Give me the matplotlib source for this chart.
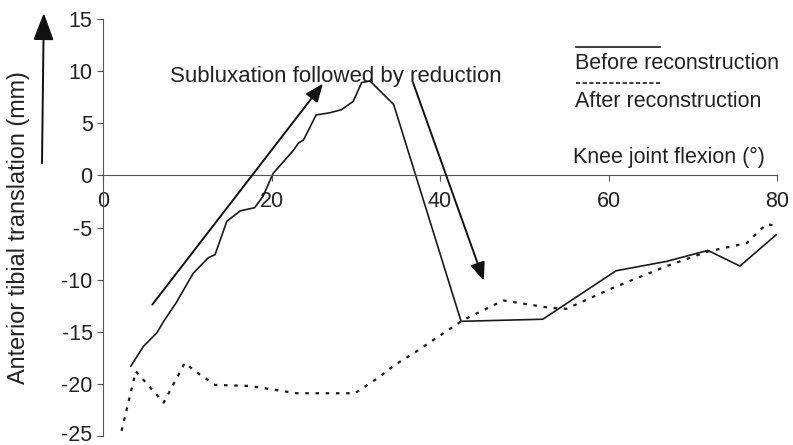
import matplotlib
matplotlib.use("Agg")
import matplotlib.pyplot as plt
from matplotlib.patches import FancyArrowPatch
from matplotlib.transforms import offset_copy

plt.rcParams['font.family'] = ['Liberation Sans', 'DejaVu Sans']

# Data (knee joint flexion in degrees, anterior tibial translation in mm)
before_x = [3.3, 4.8, 6.4, 7.2, 8.7, 10.7, 12.5, 13.3, 14.7, 16.3, 18.0, 19.0, 20.2,
            22.6, 23.2, 23.8, 25.3, 26.9, 28.3, 29.7, 30.7, 31.7, 34.5, 42.5,
            52.2, 60.9, 66.9, 71.8, 75.6, 79.9]
before_y = [-18.3, -16.4, -15.1, -14.0, -12.2, -9.4, -7.9, -7.6, -4.4, -3.4, -3.1, -2.0, 0.2,
            2.4, 3.1, 3.4, 5.8, 6.0, 6.3, 7.1, 8.9, 9.05, 6.8, -14.0,
            -13.8, -9.15, -8.25, -7.2, -8.7, -5.7]

after_x = [2.2, 3.9, 7.2, 9.7, 11.5, 13.3, 17.4, 19.8, 23.0, 29.9, 32.7, 34.6, 36.8,
           42.7, 47.5, 53.0, 55.0, 60.5, 66.9, 71.8, 76.4, 78.7, 79.9]
after_y = [-24.5, -18.8, -21.8, -18.0, -19.1, -20.1, -20.2, -20.5, -20.9, -20.9, -19.4, -18.2, -17.1,
           -13.9, -12.0, -12.7, -12.8, -10.8, -8.7, -7.3, -6.5, -4.7, -4.8]

x_ticks = [0, 20, 40, 60, 80]
y_ticks = [15, 10, 5, 0, -5, -10, -15, -20, -25]

title_text = "Subluxation followed by reduction"
legend_labels = ["Before reconstruction", "After reconstruction"]
x_label = "Knee joint flexion (°)"
y_label = "Anterior tibial translation (mm)"

FS = 15.5
TXT = '#222222'

fig = plt.figure(figsize=(7.93, 4.45), dpi=100)
ax = fig.add_axes([103/793, 1 - 436/445, (777 - 103)/793, (436 - 19)/445])

ax.plot(before_x, before_y, color='#1a1a1a', lw=1.2, solid_joinstyle='miter')
ax.plot(after_x, after_y, color='#1a1a1a', lw=1.6, linestyle=(0, (1.6, 3.0)))

ax.set_xlim(0, 80)
ax.set_ylim(-25, 15)
ax.set_xticks(x_ticks)
ax.set_yticks(y_ticks)
ax.set_yticklabels([str(v) for v in y_ticks])

ax.spines['top'].set_visible(False)
ax.spines['right'].set_visible(False)
ax.spines['bottom'].set_position(('data', 0))
for s in ('bottom', 'left'):
    ax.spines[s].set_color('#555555')
    ax.spines[s].set_linewidth(0.8)
ax.tick_params(axis='y', direction='out', length=4.5, width=0.8, pad=3.0,
               labelsize=FS, colors='#555555', labelcolor=TXT)
ax.tick_params(axis='x', direction='out', length=4, width=0.8, pad=7.5,
               labelsize=FS, colors='#555555', labelcolor=TXT)

# nudge the lowest y tick label up slightly so it stays inside the canvas
for tick in ax.yaxis.get_major_ticks():
    if tick.get_loc() == -25:
        tick.label1.set_transform(offset_copy(tick.label1.get_transform(), fig=fig, x=0, y=3, units='dots'))

ax.set_ylabel(y_label, fontsize=16.8, color=TXT)
ax.yaxis.set_label_coords(-0.108, 0.5)

# Annotations
ax.text(8.0, 9.5, title_text, fontsize=16, color=TXT, va='center', ha='left')
arrow_kw = dict(arrowstyle='-|>,head_length=1.1,head_width=0.45', color='#111111', lw=1.4,
                shrinkA=0, shrinkB=0)
ax.annotate('', xy=(26.1, 8.8), xytext=(5.85, -12.4), arrowprops=arrow_kw)
ax.annotate('', xy=(45.2, -10.1), xytext=(36.8, 8.9), arrowprops=arrow_kw)

# Legend drawn as lines and labels
ax.plot([56.1, 66.1], [12.3, 12.3], color='#1a1a1a', lw=1.2, clip_on=False)
ax.text(56.0, 10.75, legend_labels[0], fontsize=FS, color=TXT, va='center', ha='left')
ax.plot([56.1, 66.1], [8.9, 8.9], color='#1a1a1a', lw=1.2, linestyle=(0, (2.5, 1.5)), clip_on=False)
ax.text(56.0, 7.07, legend_labels[1], fontsize=FS, color=TXT, va='center', ha='left')
ax.text(55.8, 1.68, x_label, fontsize=FS, color=TXT, va='center', ha='left')

# Upward arrow beside y label
fig.patches.append(FancyArrowPatch(
    (42.0/793, 1 - 163/445), (43.8/793, 1 - 13/445), transform=fig.transFigure,
    arrowstyle='-|>,head_length=1.2,head_width=0.45', mutation_scale=14,
    color='#111111', lw=1.4, shrinkA=0, shrinkB=0))

fig.savefig('out.png', dpi=100)
